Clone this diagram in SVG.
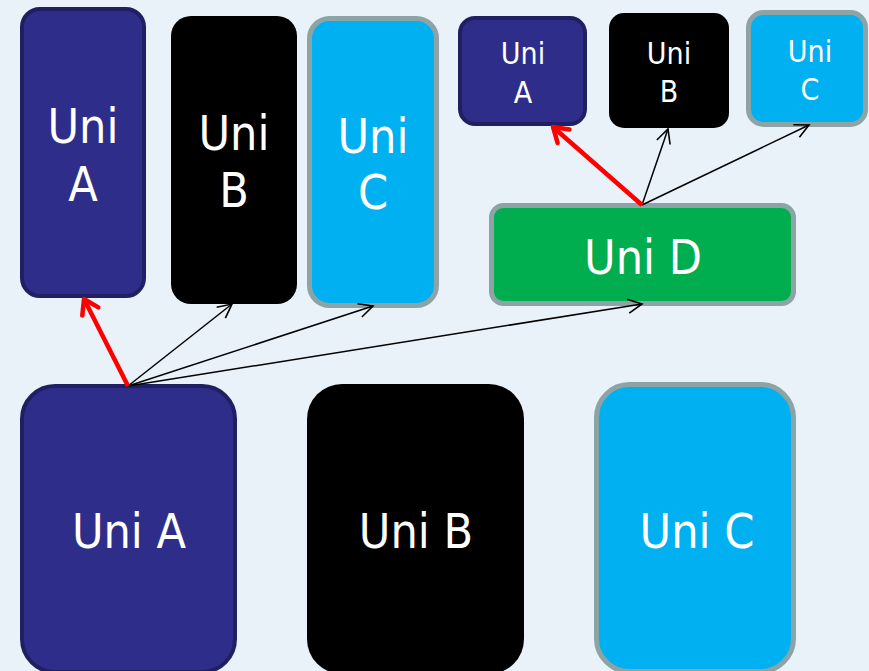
<svg xmlns="http://www.w3.org/2000/svg" width="869" height="671" viewBox="0 0 869 671">
<style>
.t{font-family:"DejaVu Sans","Liberation Sans",sans-serif;font-stretch:condensed;fill:#fff;text-anchor:middle}
.big{font-size:48px}
.sm{font-size:30px}
.navy{fill:#2E2E8A;stroke:#1F1F62;stroke-width:4}
.blk{fill:#000}
.cyan{fill:#00B0F0;stroke:#8DA4A6;stroke-width:5}
.grn{fill:#00AE50;stroke:#8DA4A6;stroke-width:5}
.cb{stroke:#000;stroke-width:1.5;fill:none;marker-end:url(#ab)}
.cr{stroke:#FF0000;stroke-width:4.5;fill:none;marker-end:url(#ar)}
</style>
<defs>
<marker id="ab" markerUnits="userSpaceOnUse" orient="auto" overflow="visible" refX="0" refY="0" markerWidth="1" markerHeight="1">
<path d="M-14,-7 L0,0 L-14,7" fill="none" stroke="#000" stroke-width="1.6"/>
</marker>
<marker id="ar" markerUnits="userSpaceOnUse" orient="auto" overflow="visible" refX="0" refY="0" markerWidth="1" markerHeight="1">
<path d="M-14,-9 L0,0 L-14,9" fill="none" stroke="#FF0000" stroke-width="4.5" stroke-linecap="round" stroke-linejoin="round"/>
</marker>
</defs>
<rect width="869" height="671" fill="#EAF2F9"/>
<g id="topA"><rect class="navy" x="22" y="9" width="122" height="287" rx="18"/><text class="t big" x="83" y="143">Uni</text><text class="t big" x="83" y="201">A</text></g>
<g id="topB"><rect class="blk" x="171" y="16" width="126" height="288" rx="20"/><text class="t big" x="234" y="150">Uni</text><text class="t big" x="234" y="207">B</text></g>
<g id="topC"><rect class="cyan" x="309.5" y="18.5" width="127" height="287" rx="20"/><text class="t big" x="373" y="153">Uni</text><text class="t big" x="373" y="209">C</text></g>
<g id="smallA"><rect class="navy" x="460" y="18" width="125" height="106" rx="15"/><text class="t sm" x="523" y="64">Uni</text><text class="t sm" x="523" y="103">A</text></g>
<g id="smallB"><rect class="blk" x="609" y="13" width="120" height="115" rx="15"/><text class="t sm" x="669" y="64">Uni</text><text class="t sm" x="669" y="102">B</text></g>
<g id="smallC"><rect class="cyan" x="748.5" y="12.5" width="117" height="112" rx="15"/><text class="t sm" x="810" y="62">Uni</text><text class="t sm" x="810" y="100">C</text></g>
<g id="uniD"><rect class="grn" x="491.5" y="205.5" width="302" height="98" rx="12"/><text class="t big" x="643" y="274">Uni D</text></g>
<g id="botA"><rect class="navy" x="22" y="386" width="213" height="286" rx="33"/><text class="t big" x="129" y="548">Uni A</text></g>
<g id="botB"><rect class="blk" x="307" y="384" width="217" height="290" rx="35"/><text class="t big" x="416" y="548">Uni B</text></g>
<g id="botC"><rect class="cyan" x="596.5" y="384.5" width="197" height="287" rx="33"/><text class="t big" x="697" y="548">Uni C</text></g>
<g id="connectors">
<line class="cb" x1="128" y1="386" x2="232" y2="304"/>
<line class="cb" x1="128" y1="386" x2="373" y2="306"/>
<line class="cb" x1="128" y1="386" x2="642" y2="304"/>
<line class="cr" x1="128" y1="386" x2="84" y2="299"/>
<line class="cb" x1="642" y1="205" x2="668" y2="129"/>
<line class="cb" x1="642" y1="205" x2="809" y2="125"/>
<line class="cr" x1="642" y1="205" x2="553" y2="127"/>
</g>
</svg>
